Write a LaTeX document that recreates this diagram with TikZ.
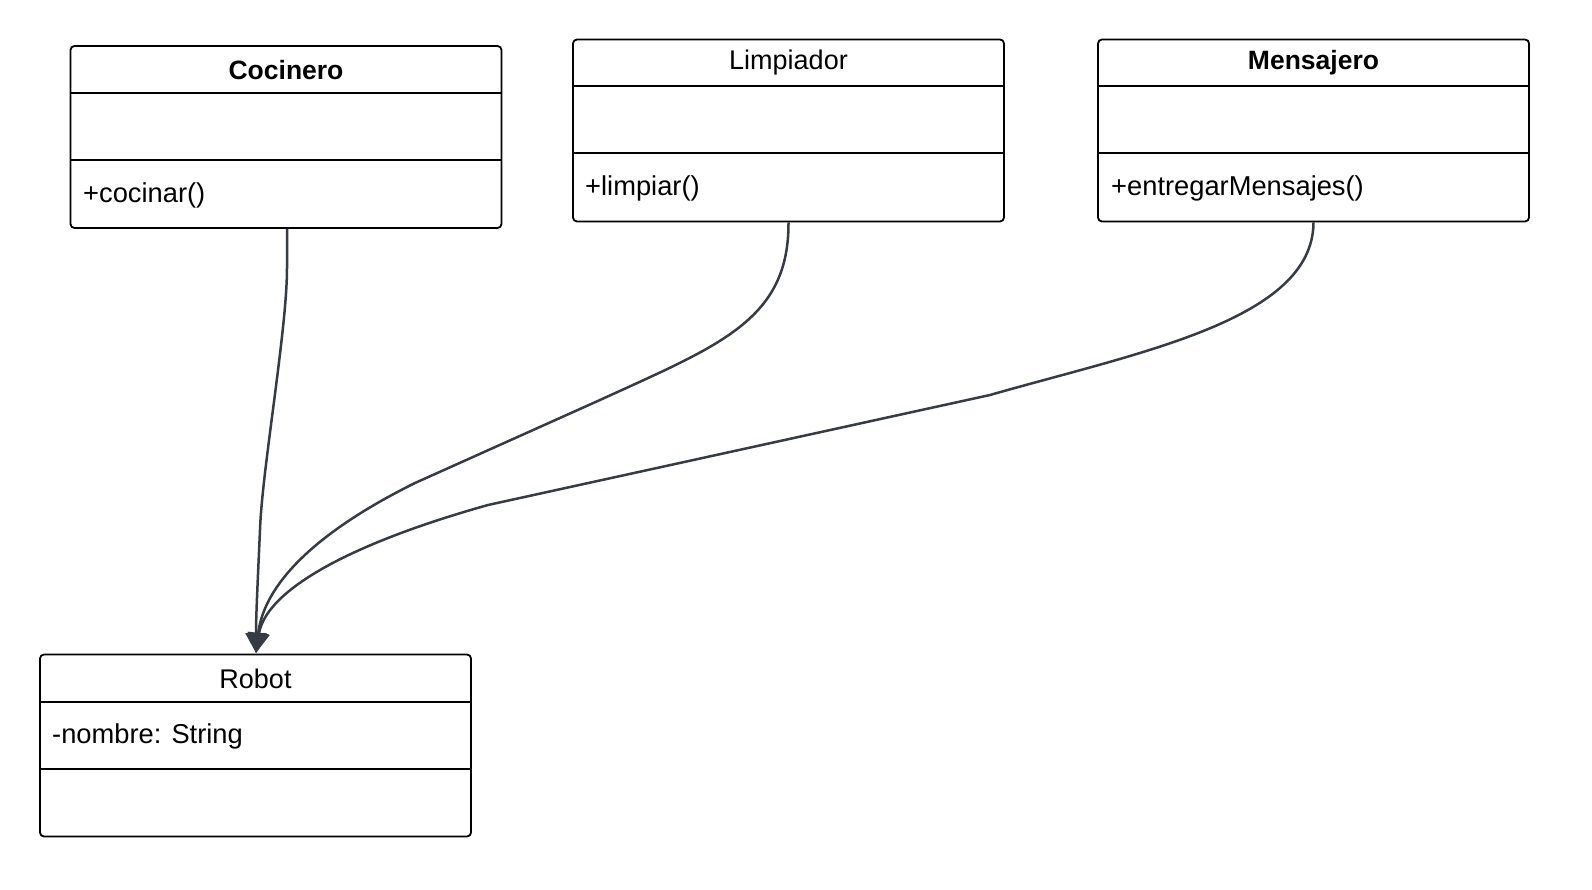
\documentclass[tikz,border=0pt]{standalone}
\usepackage{fontspec}
\setmainfont{Liberation Sans}
\usetikzlibrary{arrows.meta}
\definecolor{edgecol}{HTML}{363B44}
\tikzset{
  classbox/.style={draw=black, line width=1.8pt, rounded corners=4pt, fill=white, inner sep=0pt, minimum width=431pt, minimum height=182pt},
  divider/.style={draw=black, line width=1.6pt},
  ttl/.style={inner sep=0pt, anchor=center, font=\fontsize{27}{32}\selectfont},
  ttlb/.style={ttl, font=\fontsize{26.5}{32}\selectfont\bfseries},
  member/.style={inner sep=0pt, anchor=west, font=\fontsize{27.3}{32}\selectfont},
  conn/.style={draw=edgecol, line width=2.5pt, -{Triangle[length=20pt,width=21pt]}}
}
\begin{document}
\begin{tikzpicture}[x=1pt,y=-1pt]
\useasboundingbox (0,0) rectangle (1592,890);
\fill[white] (0,0) rectangle (1592,890);

% Cocinero
\node[classbox] (coc) at (286,137) {};
\draw[divider] (71,93) -- (501,93);
\draw[divider] (71,160) -- (501,160);
\node[ttlb] (coct) at (286,70) {Cocinero};
\node[member] (cocm) at (83,195) {+cocinar()};

% Limpiador
\node[classbox] (lim) at (788.5,130.5) {};
\draw[divider] (573,86) -- (1004,86);
\draw[divider] (573,153) -- (1004,153);
\node[ttl] (limt) at (788.5,63) {Limpiador};
\node[member] (limm) at (585,188) {+limpiar()};

% Mensajero
\node[classbox] (men) at (1313.5,130.5) {};
\draw[divider] (1098,86) -- (1529,86);
\draw[divider] (1098,153) -- (1529,153);
\node[ttlb] (ment) at (1313.5,63) {Mensajero};
\node[member] (menm) at (1111,188) {+entregarMensajes()};

% Robot
\node[classbox] (rob) at (255.5,745.5) {};
\draw[divider] (40,702) -- (471,702);
\draw[divider] (40,769) -- (471,769);
\node[ttl] (robt) at (255.5,679) {Robot};
\node[member] (robm) at (52,736) {-nombre: String};

% connectors
\coordinate (tip) at (256,653);
\draw[conn] (coc.south) ++(1,0) -- (287,268) .. controls (287,330) and (262,470) .. (260,530) .. controls (258,575) and (256,615) .. (tip);
\draw[conn] (lim.south) .. controls (789,320) and (720,345) .. (600,400) -- (415,483) .. controls (290,545) and (262,600) .. (tip);
\draw[conn] (men.south) .. controls (1313,320) and (1140,352) .. (990,395) -- (488,505) .. controls (335,548) and (265,595) .. (tip);
\end{tikzpicture}
\end{document}
